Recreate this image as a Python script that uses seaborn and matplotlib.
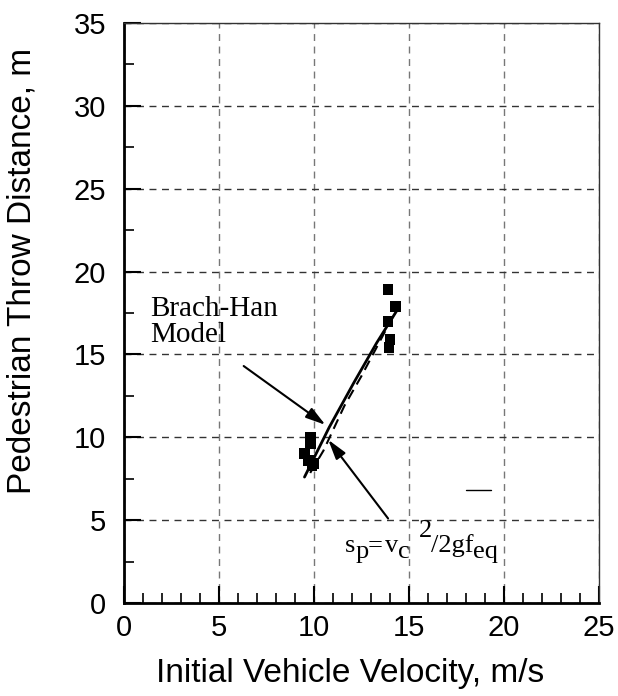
import matplotlib
matplotlib.use("Agg")
import matplotlib.pyplot as plt
import matplotlib.transforms as mtransforms
import seaborn as sns
import pandas as pd
from matplotlib.ticker import MultipleLocator

# measured throw distances
vel_test = [13.9, 14.3, 13.9, 14.0, 13.95, 9.8, 9.8, 9.5, 9.7, 9.9, 10.0]
throw_test = [18.9, 17.9, 17.0, 15.9, 15.4, 10.0, 9.6, 9.0, 8.6, 8.3, 8.4]

# Brach-Han model (solid) and s_p = v^2/2gf (dashed)
vel_bh = [9.5, 10.8, 12.1, 13.3, 14.5]
throw_bh = [7.6, 10.6, 13.3, 15.7, 17.9]
vel_sp = [9.8, 10.5, 11.6, 12.5, 14.3]
throw_sp = [7.85, 9.2, 11.9, 13.7, 17.6]

df_test = pd.DataFrame({"v": vel_test, "s": throw_test})
df_bh = pd.DataFrame({"v": vel_bh, "s": throw_bh})
df_sp = pd.DataFrame({"v": vel_sp, "s": throw_sp})

sns.set_style("ticks")
plt.rcParams["font.family"] = ["Liberation Sans", "DejaVu Sans"]
plt.rcParams["text.color"] = "black"
plt.rcParams["axes.labelcolor"] = "black"
plt.rcParams["xtick.color"] = "black"
plt.rcParams["ytick.color"] = "black"

fig = plt.figure(figsize=(6.18, 6.96), dpi=100)
ax = fig.add_axes([0.2006, 0.1336, 0.7687, 0.8334])

sns.lineplot(data=df_bh, x="v", y="s", ax=ax, color="black", lw=2, zorder=3)
sns.lineplot(data=df_sp, x="v", y="s", ax=ax, color="black", lw=1.5,
             linestyle=(0, (5, 3)), zorder=3)
sns.scatterplot(data=df_test, x="v", y="s", ax=ax, marker="s", s=60,
                color="black", edgecolor="none", zorder=4)

ax.set_xlim(0, 25)
ax.set_ylim(0, 35)
ax.xaxis.set_major_locator(MultipleLocator(5))
ax.xaxis.set_minor_locator(MultipleLocator(1))
ax.yaxis.set_major_locator(MultipleLocator(5))
ax.yaxis.set_minor_locator(MultipleLocator(2.5))

ax.xaxis.grid(True, which="major", color="#777777", lw=1, linestyle=(0, (5, 4)))
ax.yaxis.grid(True, which="major", color="#333333", lw=1, linestyle=(0, (5, 4)))
ax.set_axisbelow(True)

ax.tick_params(axis="both", which="major", direction="in", length=12, width=1.5,
               labelsize=21, top=False, right=False)
ax.tick_params(axis="x", which="major", pad=8)
ax.tick_params(axis="y", which="major", pad=13)
ax.tick_params(axis="both", which="minor", direction="in", length=7, width=1.2,
               top=False, right=False)

for side in ["left", "bottom"]:
    ax.spines[side].set_linewidth(2)
    ax.spines[side].set_color("black")
for side in ["top", "right"]:
    ax.spines[side].set_visible(True)
    ax.spines[side].set_linewidth(1)
    ax.spines[side].set_color("#333333")

ax.set_xlabel("Initial Vehicle Velocity, m/s", fontsize=24, labelpad=10)
ax.set_ylabel("Pedestrian Throw Distance, m", fontsize=24)
ax.xaxis.set_label_coords(0.476, -0.095)
ax.yaxis.set_label_coords(-0.183, 0.572)

serif = ["Liberation Serif", "DejaVu Serif"]
ax.text(1.37, 18.5, "Brach-Han\nModel", fontsize=21, family=serif,
        linespacing=1.0, va="top", ha="left")
arrow = dict(arrowstyle="-|>,head_length=1.2,head_width=0.35",
             color="black", lw=1.5, shrinkA=0, shrinkB=0)
ax.annotate("", xy=(10.6, 10.75), xytext=(6.3, 14.3), arrowprops=arrow)
ax.annotate("", xy=(10.75, 9.85), xytext=(13.9, 5.1), arrowprops=arrow)

# equation pieces, subscripts kept at full size like the original
eq_parts = [("s", 0, 0), ("p", 10, -6), ("=", 22, 0), ("v", 40, 0),
            ("c", 53, -6), ("2", 74, 15), ("/2gf", 86, 0), ("eq", 128, -6)]
for txt, dx, dy in eq_parts:
    tr = mtransforms.offset_copy(ax.transData, fig=fig, x=dx, y=dy, units="dots")
    ax.text(11.65, 3.05, txt, fontsize=19, family=serif, ha="left",
            va="baseline", transform=tr)
ax.plot([18.0, 19.3], [6.8, 6.8], color="black", lw=1)

fig.savefig("out.png", dpi=100)
